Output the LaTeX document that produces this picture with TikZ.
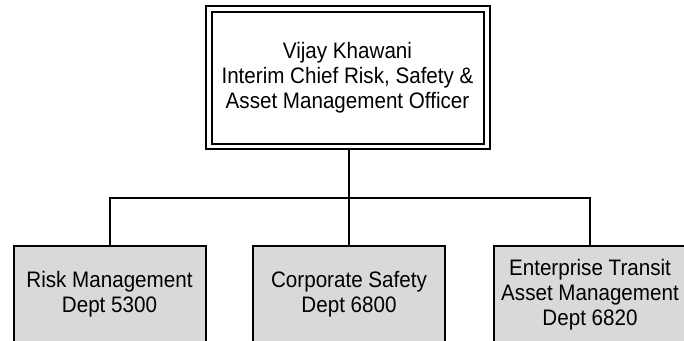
\documentclass[tikz,border=0pt]{standalone}
\usepackage{fontspec}
\setmainfont[FakeStretch=0.92]{Liberation Sans}
\definecolor{boxgray}{RGB}{217,217,217}
\begin{document}
\begin{tikzpicture}[x=1pt,y=-1pt,
  txt/.style={align=center,font=\fontsize{22.4}{25}\selectfont,text=black},
  outerbox/.style={draw=black,line width=2pt,minimum width=284pt,minimum height=143pt,inner sep=0pt},
  innerbox/.style={draw=black,line width=2pt,minimum width=272pt,minimum height=132pt,inner sep=0pt,txt},
  deptbox/.style={draw=black,fill=boxgray,line width=2pt,minimum width=192pt,minimum height=96pt,inner sep=0pt,txt},
  link/.style={draw=black,line width=2pt}]
\useasboundingbox (0,0) rectangle (684,340);
\clip (0,0) rectangle (684,340);
\fill[white] (0,0) rectangle (684,340);
\node[outerbox] (outer) at (347.5,77.5) {};
\node[innerbox] (top) at (347.5,77.5) {Vijay Khawani\\Interim Chief Risk, Safety \&\\Asset Management Officer};
\node[deptbox] (b1) at (109.5,294.3) {Risk Management\\Dept 5300};
\node[deptbox] (b2) at (349,294.3) {Corporate Safety\\Dept 6800};
\node[deptbox] (b3) at (590,294.3) {Enterprise Transit\\Asset Management\\Dept 6820};
\coordinate (bus) at (0,197.7);
\draw[link] (b1.north) -- (b1.north |- bus) -- (b3.north |- bus) -- (b3.north);
\draw[link] (b2.north) -- (b2.north |- bus);
\draw[link] (b2.north |- outer.south) -- (b2.north |- bus);
\end{tikzpicture}
\end{document}
